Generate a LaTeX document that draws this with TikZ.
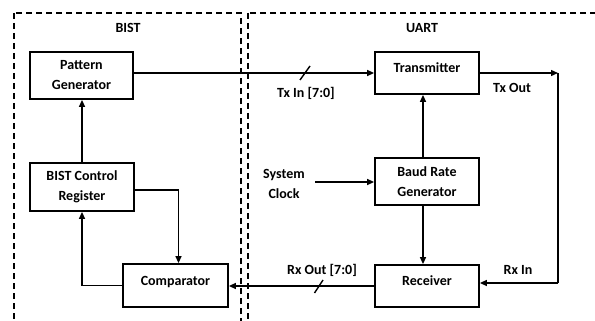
\documentclass[tikz,border=0pt]{standalone}
\usepackage{fontspec}
\setmainfont{Carlito}
\usetikzlibrary{arrows.meta}
\begin{document}
\begin{tikzpicture}[x=1pt,y=-1pt,
  txt/.style={font=\bfseries\fontsize{14}{20}\selectfont},
  blk/.style={txt, draw, line width=1.8pt, align=center, inner sep=0pt},
  onel/.style={text height=9.5pt, text depth=10.5pt},
  lbl/.style={txt, inner sep=0pt, text height=9.5pt, text depth=0pt},
  conn/.style={line width=1.4pt, -{Triangle[length=7pt,width=6pt]}},
  plain/.style={line width=1.4pt},
  region/.style={line width=1.3pt, dash pattern=on 6pt off 4pt}]
\useasboundingbox (0,0) rectangle (595,321);
\begin{scope}
\clip (0,0) rectangle (595,321);
\draw[region] (14,13) rectangle (241,340);
\draw[region] (248,13) rectangle (620,340);
\end{scope}
\node[lbl] (bist) at (128,28) {BIST};
\node[lbl] (uart) at (422,28) {UART};
\node[blk, minimum width=103pt, minimum height=47pt] (pg) at (81.5,75.5) {Pattern\\Generator};
\node[blk, onel, minimum width=104pt, minimum height=42pt] (tx) at (427,73) {Transmitter};
\node[blk, minimum width=104pt, minimum height=47pt] (brg) at (427,181.5) {Baud Rate\\Generator};
\node[blk, onel, minimum width=104pt, minimum height=42pt] (rx) at (427,286) {Receiver};
\node[blk, minimum width=104pt, minimum height=48pt] (bcr) at (82,187) {BIST Control\\Register};
\node[blk, onel, minimum width=105pt, minimum height=43pt] (cmp) at (175.5,285.5) {Comparator};
\node[lbl] (txin) at (306,93) {Tx In [7:0]};
\node[lbl] (txout) at (512,88) {Tx Out};
\node[lbl] (rxin) at (518,270) {Rx In};
\node[lbl] (rxout) at (322,270) {Rx Out [7:0]};
\node[txt, align=center, inner sep=0pt] (sys) at (284,184) {System\\Clock};
\coordinate (txo) at (558,73);
\coordinate (rxc) at (558,283);
\coordinate (sc) at (315,182);
% connectors
\draw[conn] (pg.east |- tx.west) -- (tx.west);
\draw[conn] (tx.east) -- (txo);
\draw[plain] (txo) -- (rxc);
\draw[conn] (rxc) -- (rxc -| rx.east);
\draw[conn] ([xshift=-4pt]brg.north) -- ([xshift=-4pt]brg.north |- tx.south);
\draw[conn] ([xshift=-4pt]brg.south) -- ([xshift=-4pt]brg.south |- rx.north);
\draw[conn] (sc) -- (sc -| brg.west);
\draw[conn] (rx.west) -- (rx.west -| cmp.east);
\draw[conn] (cmp.west) -| (bcr.south);
\draw[conn] (bcr.north) -- (bcr.north |- pg.south);
\draw[conn] ([yshift=-3pt]bcr.east) -| ([xshift=3pt]cmp.north);
% bus slashes
\draw[plain] (300,80) -- (310,66);
\draw[plain] (314.5,293) -- (323,280);
\end{tikzpicture}
\end{document}
